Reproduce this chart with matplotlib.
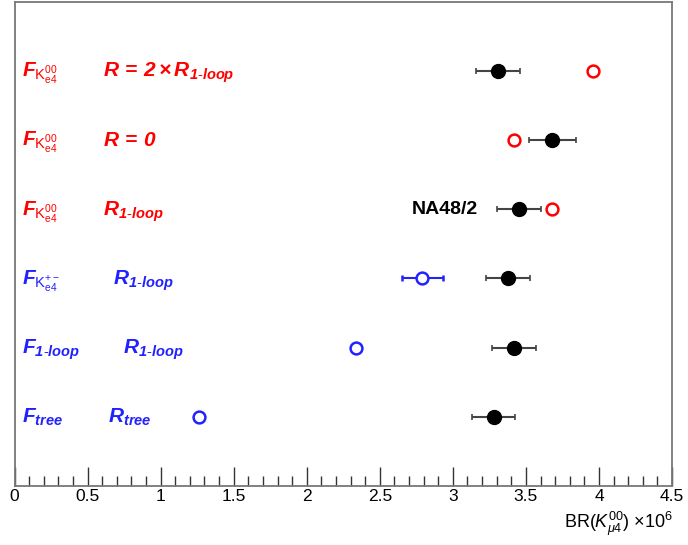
import numpy as np
import matplotlib
matplotlib.use("Agg")
import matplotlib.pyplot as plt
import matplotlib.ticker as ticker

plt.rcParams['font.family'] = ['Liberation Sans', 'DejaVu Sans']
plt.rcParams['mathtext.fontset'] = 'custom'
plt.rcParams['mathtext.rm'] = 'Liberation Sans'
plt.rcParams['mathtext.it'] = 'Liberation Sans:italic'
plt.rcParams['mathtext.bf'] = 'Liberation Sans:italic:bold'
plt.rcParams['mathtext.sf'] = 'Liberation Sans'

# rows from top to bottom
rows = [6, 5, 4, 3, 2, 1]
# NA48/2 measurement for each configuration
meas = [3.31, 3.68, 3.45, 3.38, 3.42, 3.28]
meas_err = [0.15, 0.16, 0.15, 0.15, 0.15, 0.146]
# predictions
pred = [3.96, 3.42, 3.68, 2.79, 2.34, 1.26]
pred_err = [0, 0, 0, 0.14, 0, 0]
pred_col = ['#ff0000', '#ff0000', '#ff0000', '#2222ff', '#2222ff', '#2222ff']

f_labels = [r'$\mathbf{F}_{\mathsf{K}^{\mathsf{00}}_{\mathsf{e4}}}$',
            r'$\mathbf{F}_{\mathsf{K}^{\mathsf{00}}_{\mathsf{e4}}}$',
            r'$\mathbf{F}_{\mathsf{K}^{\mathsf{00}}_{\mathsf{e4}}}$',
            r'$\mathbf{F}_{\mathsf{K}^{\mathsf{+-}}_{\mathsf{e4}}}$',
            r'$\mathbf{F}_{\mathbf{1}\text{-}\mathbf{loop}}$',
            r'$\mathbf{F}_{\mathbf{tree}}$']
r_labels = [r'$\mathbf{R\,=\,2\times R}_{\mathbf{1}\text{-}\mathbf{loop}}$',
            r'$\mathbf{R\,=\,0}$',
            r'$\mathbf{R}_{\mathbf{1}\text{-}\mathbf{loop}}$',
            r'$\mathbf{R}_{\mathbf{1}\text{-}\mathbf{loop}}$',
            r'$\mathbf{R}_{\mathbf{1}\text{-}\mathbf{loop}}$',
            r'$\mathbf{R}_{\mathbf{tree}}$']
r_xpos = [0.607, 0.607, 0.607, 0.675, 0.743, 0.64]

fig = plt.figure(figsize=(6.88, 5.45), dpi=100)
ax = fig.add_axes([14.5 / 688, 1 - 486 / 545, (672 - 14.5) / 688, (486 - 1.5) / 545])

for i in range(len(rows)):
    y = rows[i]
    ax.errorbar(meas[i], y, xerr=meas_err[i], fmt='o', color='black', ms=10,
                ecolor='#444444', elinewidth=1.5, capsize=2.5, capthick=1.2, zorder=3)
    if pred_err[i] > 0:
        ax.errorbar(pred[i], y, xerr=pred_err[i], fmt='o', mfc='white', mec=pred_col[i],
                    mew=1.8, ms=8.5, ecolor=pred_col[i], elinewidth=1.5, capsize=2.5,
                    capthick=1.2, zorder=3)
    else:
        ax.plot(pred[i], y, 'o', mfc='white', mec=pred_col[i], mew=1.8, ms=8.5, zorder=3)
    ax.text(0.05, y - 0.09, f_labels[i], color=pred_col[i], fontsize=15, va='baseline', ha='left')
    ax.text(r_xpos[i], y - 0.09, r_labels[i], color=pred_col[i], fontsize=15, va='baseline', ha='left')

ax.text(3.17, 4, 'NA48/2', fontsize=14, fontweight='bold', ha='right', va='center')

ax.set_xlim(0, 4.5)
ax.set_ylim(0, 7)
ax.set_yticks([])
ax.xaxis.set_major_locator(ticker.MultipleLocator(0.5))
ax.xaxis.set_minor_locator(ticker.MultipleLocator(0.1))
ax.xaxis.set_major_formatter(ticker.FuncFormatter(lambda v, p: ('%g' % v)))
ax.tick_params(axis='x', which='major', direction='in', length=14, width=1, color='#333333',
               labelsize=12.5, pad=2)
ax.tick_params(axis='x', which='minor', direction='in', length=7, width=1, color='#333333')
for s in ax.spines.values():
    s.set_color('#777777')
    s.set_linewidth(1.3)

fig.text(672.5 / 688, 1 - 528 / 545, r'BR($K^{00}_{\mu 4}$) $\times$10$^{6}$', fontsize=13,
         ha='right', va='baseline')

fig.savefig('out.png', dpi=100)
